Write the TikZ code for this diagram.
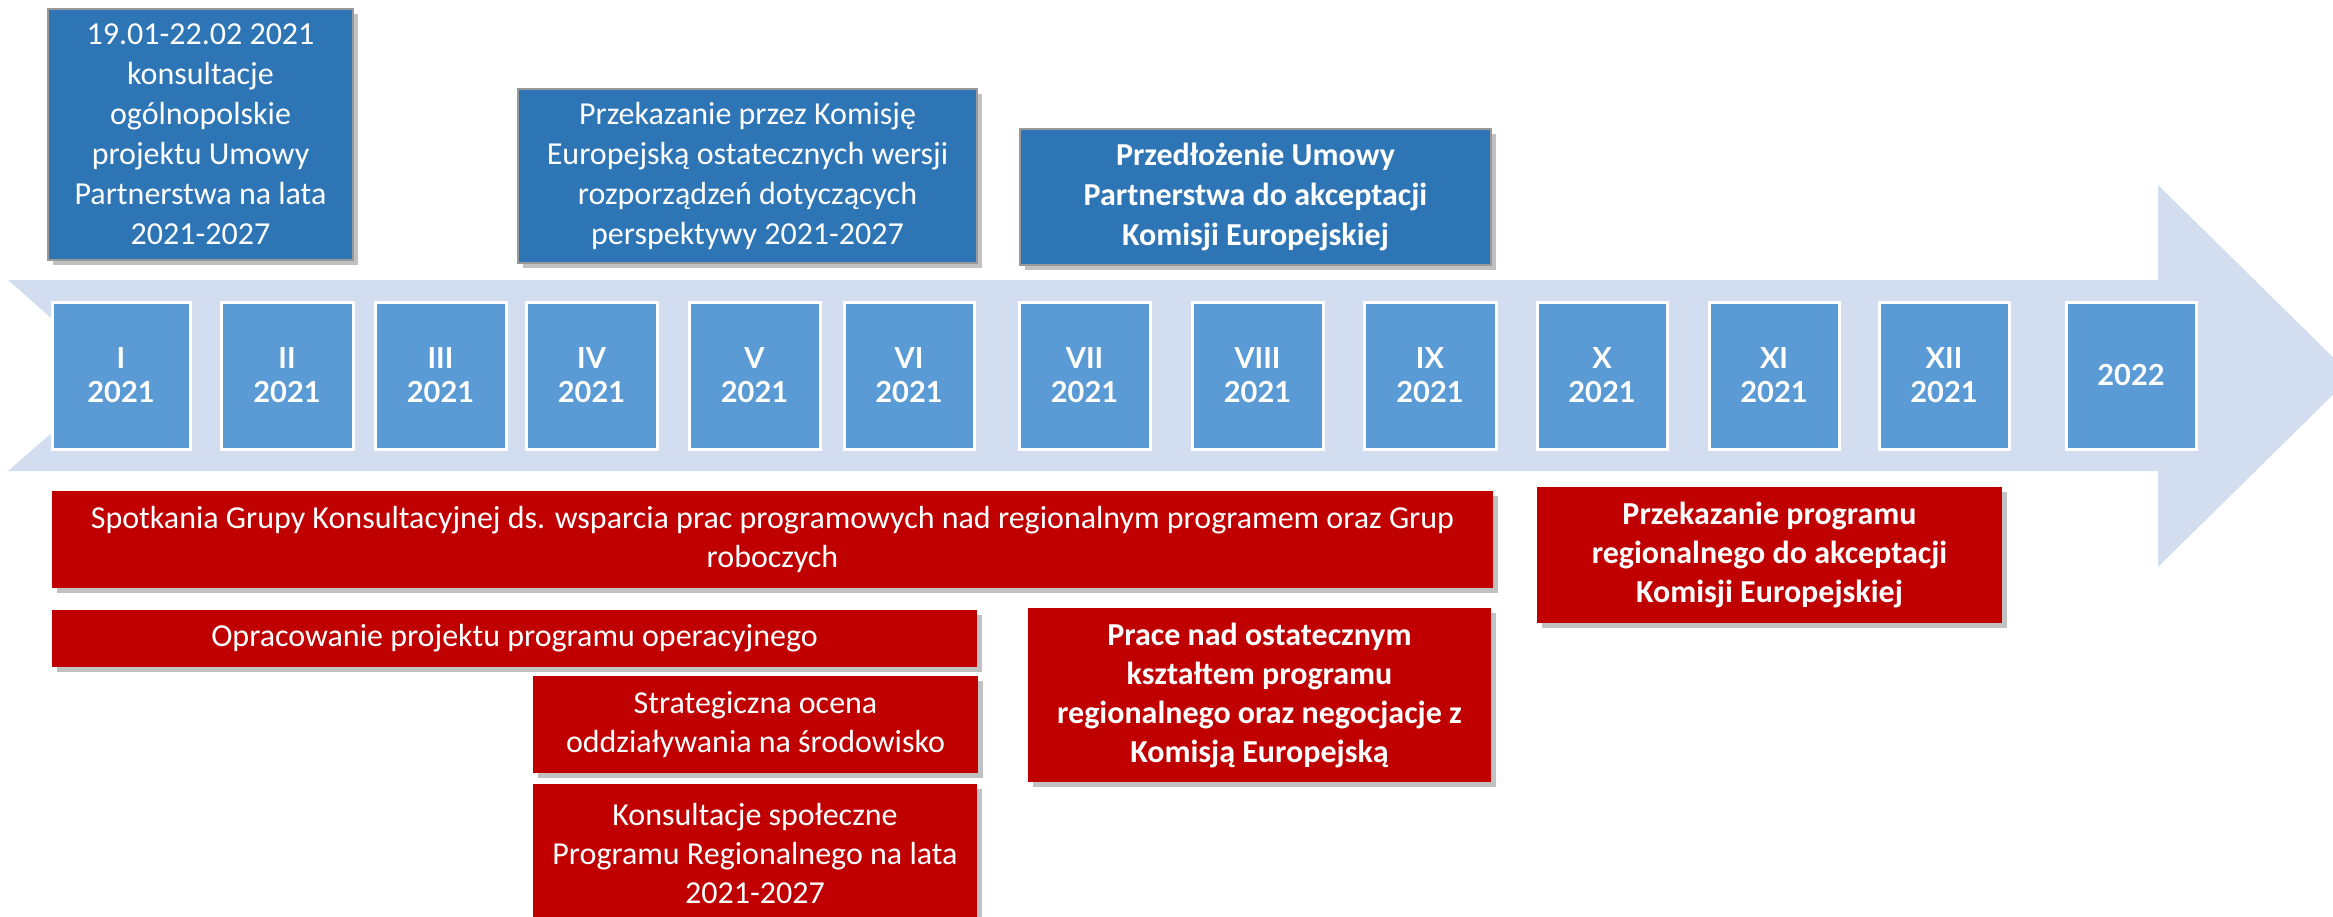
\documentclass[tikz,border=0pt]{standalone}
\usepackage{fontspec}
\setmainfont{Carlito}
\newfontfamily\latofont{Lato}
\usetikzlibrary{shadows}
\definecolor{topblue}{HTML}{2E75B6}
\definecolor{monthblue}{HTML}{5B9BD5}
\definecolor{arrowfill}{HTML}{D2DEEF}
\definecolor{boxred}{HTML}{C00000}
\tikzset{
  boxshadow/.style={drop shadow={shadow xshift=5pt, shadow yshift=-5pt, opacity=0.35, fill=black!70}},
  topbox/.style={fill=topblue, draw=black!40, line width=1.2pt, text=white, align=center,
    inner sep=0pt, boxshadow, font=\fontsize{32}{40}\selectfont},
  redbox/.style={fill=boxred, text=white, align=center, inner sep=0pt, boxshadow,
    font=\fontsize{32}{39}\selectfont},
  monthbox/.style={fill=monthblue, draw=white, line width=3pt, text=white, align=center,
    inner sep=0pt, font=\latofont\bfseries\fontsize{29}{34}\selectfont},
}
\newcommand\placebox[7]{%
  \node[#1, minimum width={(#5-#3)*1pt}, minimum height={(#6-#4)*1pt}]
    (#2) at ({(#3+#5)/2},{(#4+#6)/2}) {#7};}
\begin{document}
\begin{tikzpicture}[x=1pt,y=-1pt]
\useasboundingbox (0,0) rectangle (2333,917);
\clip (0,0) rectangle (2333,917);
% timeline arrow
\fill[arrowfill] (8,280) -- (2158,280) -- (2158,185) -- (2352,376) -- (2158,567)
  -- (2158,471) -- (8,471) -- (117,376) -- cycle;
% month boxes
\placebox{monthbox}{m1}{52}{302}{190}{449}{I\\2021}
\placebox{monthbox}{m2}{221}{302}{353}{449}{II\\2021}
\placebox{monthbox}{m3}{375}{302}{506}{449}{III\\2021}
\placebox{monthbox}{m4}{526}{302}{657}{449}{IV\\2021}
\placebox{monthbox}{m5}{689}{302}{820}{449}{V\\2021}
\placebox{monthbox}{m6}{844}{302}{974}{449}{VI\\2021}
\placebox{monthbox}{m7}{1019}{302}{1150}{449}{VII\\2021}
\placebox{monthbox}{m8}{1192}{302}{1323}{449}{VIII\\2021}
\placebox{monthbox}{m9}{1364}{302}{1496}{449}{IX\\2021}
\placebox{monthbox}{m10}{1537}{302}{1667}{449}{X\\2021}
\placebox{monthbox}{m11}{1709}{302}{1839}{449}{XI\\2021}
\placebox{monthbox}{m12}{1879}{302}{2009}{449}{XII\\2021}
\placebox{monthbox}{m13}{2066}{302}{2196}{449}{2022}
% top boxes
\placebox{topbox}{ta}{48}{9}{353}{260}{19.01-22.02 2021\\konsultacje\\ogólnopolskie\\projektu Umowy\\Partnerstwa na lata\\2021-2027}
\placebox{topbox}{tb}{518}{89}{977}{263}{Przekazanie przez Komisję\\Europejską ostatecznych wersji\\rozporządzeń dotyczących\\perspektywy 2021-2027}
\placebox{topbox}{tc}{1020}{129}{1491}{265}{\bfseries Przedłożenie Umowy\\\bfseries Partnerstwa do akceptacji\\\bfseries Komisji Europejskiej}
% red boxes
\placebox{redbox}{r1}{52}{491}{1493}{588}{Spotkania Grupy Konsultacyjnej ds. wsparcia prac programowych nad regionalnym programem oraz Grup\\roboczych}
\placebox{redbox}{r2}{1537}{487}{2002}{623}{\bfseries Przekazanie programu\\\bfseries regionalnego do akceptacji\\\bfseries Komisji Europejskiej}
\placebox{redbox}{r3}{52}{610}{977}{667}{Opracowanie projektu programu operacyjnego}
\placebox{redbox}{r4}{1028}{608}{1491}{782}{\bfseries Prace nad ostatecznym\\\bfseries kształtem programu\\\bfseries regionalnego oraz negocjacje z\\\bfseries Komisją Europejską}
\placebox{redbox}{r5}{533}{676}{978}{773}{Strategiczna ocena\\oddziaływania na środowisko}
\placebox{redbox}{r6}{533}{784}{977}{922}{Konsultacje społeczne\\Programu Regionalnego na lata\\2021-2027}
\end{tikzpicture}
\end{document}
